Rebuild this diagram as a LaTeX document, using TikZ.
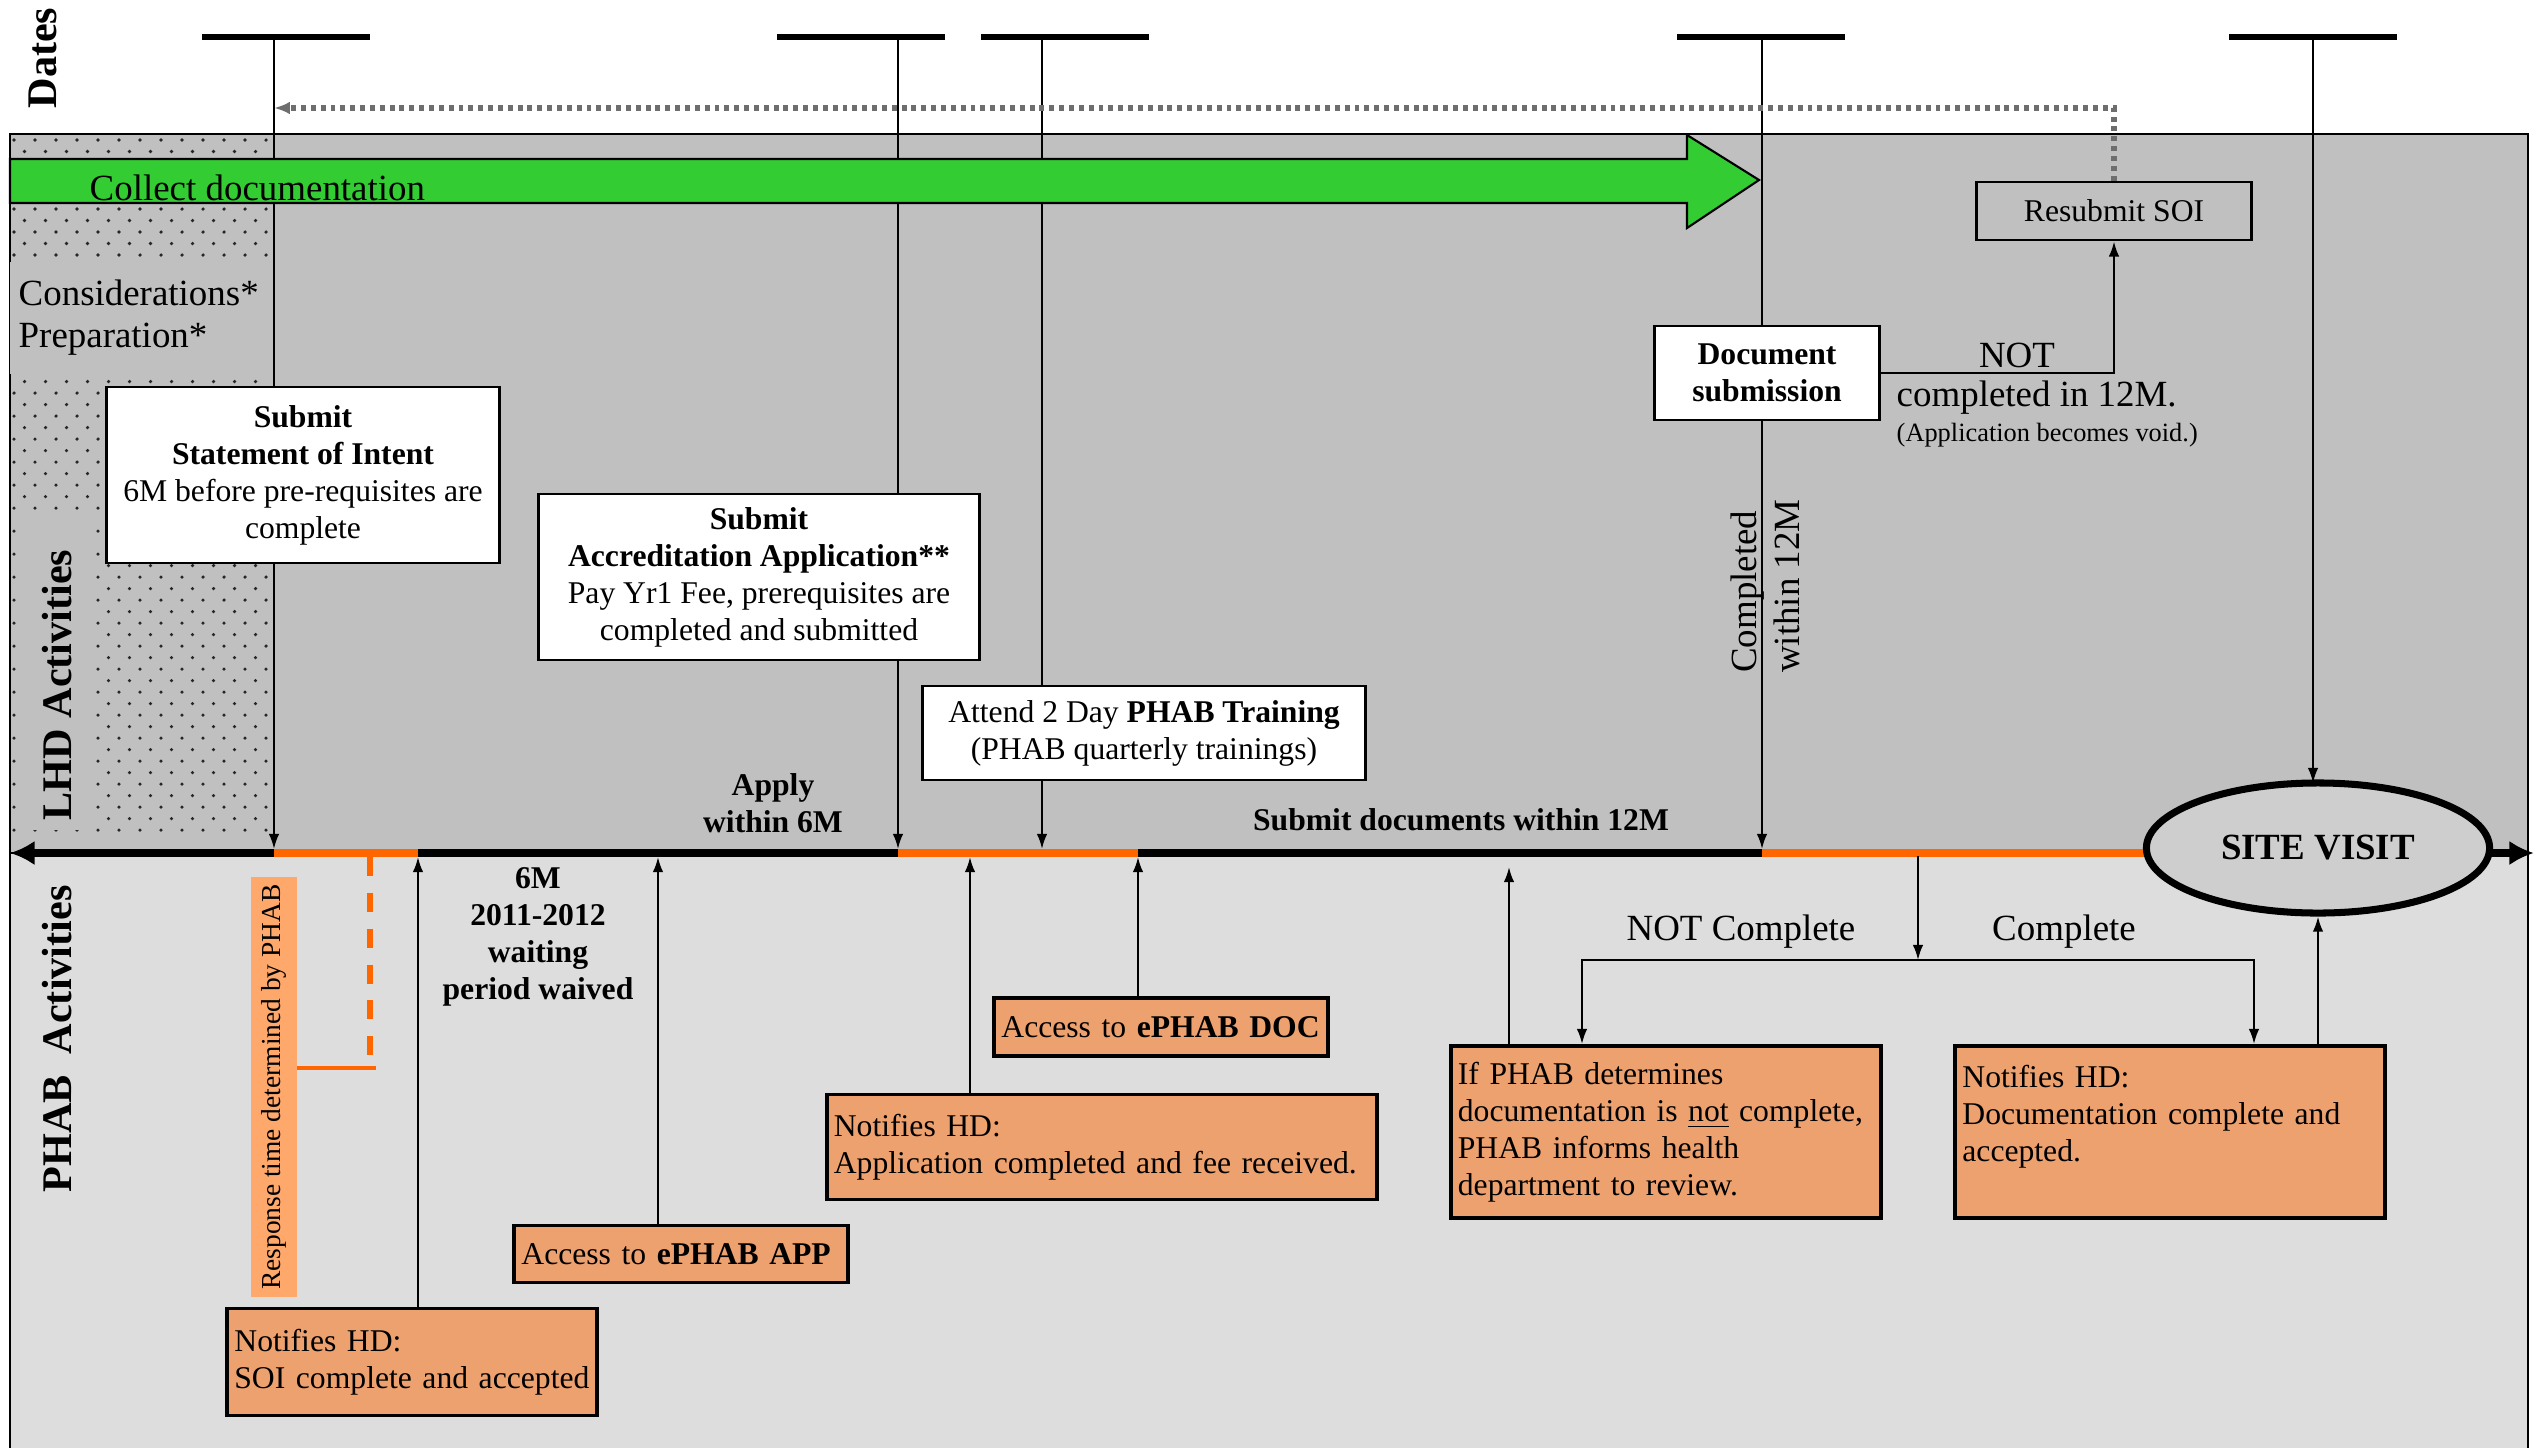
\documentclass[tikz,border=0pt]{standalone}
\usepackage{fontspec}
\setmainfont{Liberation Serif}
\usetikzlibrary{arrows.meta,shapes.geometric}

\definecolor{lhdgray}{RGB}{192,192,192}
\definecolor{phabgray}{RGB}{221,221,221}
\definecolor{sitegray}{RGB}{206,206,206}
\definecolor{docgreen}{RGB}{51,204,51}
\definecolor{axisorange}{RGB}{255,102,0}
\definecolor{boxorange}{RGB}{237,161,111}
\definecolor{resporange}{RGB}{255,168,108}
\definecolor{dotgray}{RGB}{110,110,110}

\newcommand{\boxfont}{\fontsize{9}{10.5}\selectfont}
\newcommand{\notefont}{\fontsize{9}{10.5}\selectfont\hyphenpenalty=10000\relax}
\newcommand{\bigfont}{\fontsize{10.5}{12}\selectfont}
\newcommand{\smallfont}{\fontsize{7.5}{9}\selectfont}
\newcommand{\respfont}{\fontsize{7.8}{9}\selectfont}
\newcommand{\sidefont}{\fontsize{12}{14}\selectfont\bfseries}

\begin{document}
\begin{tikzpicture}[x=0.01cm, y=-0.01cm,
    lhdbox/.style={draw, fill=white, line width=0.8pt, align=center, font=\boxfont, inner sep=0pt},
    phabbox/.style={draw, fill=boxorange, line width=1.1pt, align=left, font=\notefont, inner xsep=0.07cm, inner ysep=0pt},
    datebar/.style={fill=black, minimum width=1.67cm, minimum height=1.5pt, inner sep=0pt},
    arr/.style={line width=0.6pt, -{Latex[length=4.3pt,width=3pt]}},
    axisline/.style={line width=2pt, {Latex[length=7pt,width=7pt]}-{Latex[length=7pt,width=7pt]}},
    orangeline/.style={axisorange, line width=2pt},
    feedback/.style={dotgray, line width=1.5pt, dash pattern=on 1.4pt off 1.4pt, -{Latex[length=4.5pt,width=3.6pt]}}]
    \useasboundingbox (0,0) rectangle (2542,1448);

    % Swim lanes: LHD on top, PHAB below the time axis
    \fill[phabgray] (10,853) rectangle (2528,1448);
    \draw[line width=0.6pt] (10,1448) -- (10,853) (2528,853) -- (2528,1448);
    \filldraw[fill=lhdgray, line width=0.8pt] (10,134) rectangle (2528,853);

    % Dotted strip before the SOI
    \begin{scope}
        \clip (10,134) rectangle (274,853);
        \foreach \row in {0,...,60}
            \foreach \col in {0,...,13}
                \fill[black!85] ({14+21*\col+10.5*mod(\row,2)},{140+11.5*\row}) circle (0.5pt);
    \end{scope}
    \fill[lhdgray] (10,262) rectangle (274,374);
    \fill[lhdgray] (20,515) rectangle (92,830);

    % Date bars and the lines that drop to the axis
    \foreach \nm/\bx/\vx in {soi/286/274, app/861/898, trn/1065/1042, doc/1761/1762, site/2313/2313}{
        \node[datebar] (bar-\nm) at (\bx,37) {};
        \coordinate (top-\nm) at (\vx,37);
    }
    \coordinate (axtop) at (0,849);
    \coordinate (site-top) at (2313,783);
    \foreach \nm in {soi,app,trn,doc}
        \draw[arr] (top-\nm) -- (top-\nm |- axtop);
    \draw[arr] (top-site) -- (site-top);

    % Time axis
    \coordinate (ax-left) at (10,853);
    \coordinate (ax-right) at (2534,853);
    \draw[axisline] (ax-left) -- (ax-right);
    \draw[orangeline] (274,853) -- (418,853) (898,853) -- (1138,853) (1762,853) -- (2150,853);

    % Collect documentation arrow
    \filldraw[fill=docgreen, line width=0.6pt] (10,159) -- (1687,159) -- (1687,135) -- (1759,180)
        -- (1687,228) -- (1687,203) -- (10,203) -- cycle;
    \node[anchor=west, font=\bigfont, inner sep=0pt] (collect) at (89,188) {Collect documentation};

    % Lane titles
    \node[rotate=90, font=\sidefont] (dates) at (43,58) {Dates};
    \node[rotate=90, font=\sidefont] (lhdlbl) at (57,685) {LHD Activities};
    \node[rotate=90, font=\sidefont] (phablbl) at (57,1039) {PHAB\ \ Activities};
    \node[anchor=west, align=left, font=\bigfont, inner sep=0pt] (prep) at (18,318) {Considerations*\\Preparation*};

    % LHD activities
    \node[lhdbox, minimum width=3.93cm, minimum height=1.76cm] (soiBox) at (303,475)
        {\textbf{Submit}\\\textbf{Statement of Intent}\\6M before pre-requisites are\\complete};
    \node[lhdbox, minimum width=4.41cm, minimum height=1.66cm] (accBox) at (759,577)
        {\textbf{Submit}\\\textbf{Accreditation Application**}\\Pay Yr1 Fee, prerequisites are\\completed and submitted};
    \node[lhdbox, minimum width=4.42cm, minimum height=0.94cm] (trnBox) at (1144,733)
        {Attend 2 Day \textbf{PHAB Training}\\(PHAB quarterly trainings)};
    \node[lhdbox, minimum width=2.25cm, minimum height=0.94cm] (docsub) at (1767,373)
        {\textbf{Document}\\\textbf{submission}};
    \node[draw, line width=0.8pt, font=\boxfont, minimum width=2.75cm, minimum height=0.58cm, inner sep=0pt] (resub) at (2114,211)
        {Resubmit SOI};
    \node[font=\bigfont, inner sep=0pt] (notlbl) at (2017,355) {NOT};
    \node[anchor=west, font=\bigfont, inner sep=0pt] (notdone) at (1896,398) {completed in 12M.};
    \node[anchor=west, font=\smallfont, inner sep=0pt] (void) at (1896,435) {(Application becomes void.)};
    \node[rotate=90, align=left, font=\fontsize{10.5}{12.3}\selectfont, inner sep=0pt] (within) at (1765,586)
        {Completed\\within 12M};
    \draw[arr] (docsub.east) -| (resub.south);
    \draw[feedback] (resub.north) -- (resub.north |- 0,108) -- (top-soi |- 0,108);

    % Axis labels
    \node[align=center, font=\boxfont\bfseries, inner sep=0pt] (apply) at (773,803) {Apply\\within 6M};
    \node[font=\boxfont\bfseries, inner sep=0pt] (submit12) at (1461,820) {Submit documents within 12M};
    \node[align=center, font=\boxfont\bfseries, inner sep=0pt] (waived) at (538,937) {6M\\2011-2012\\waiting\\period waived};

    % Site visit
    \node[ellipse, draw, fill=sitegray, line width=2pt, minimum width=3.43cm, minimum height=1.3cm, inner sep=0pt,
        font=\bigfont\bfseries] (site) at (2318,848) {SITE VISIT};

    % PHAB activities
    \node[phabbox, text width=3.55cm, minimum height=1.07cm] (soiNote) at (412,1362)
        {Notifies HD:\\SOI complete and accepted};
    \node[phabbox, text width=3.19cm, minimum height=0.57cm] (appAccess) at (681,1254)
        {Access to \textbf{ePHAB APP}};
    \node[phabbox, text width=5.36cm, minimum height=1.05cm] (appNote) at (1102,1147)
        {Notifies HD:\\Application completed and fee received.};
    \node[phabbox, text width=3.19cm, minimum height=0.58cm] (docAccess) at (1161,1027)
        {Access to \textbf{ePHAB DOC}};
    \node[phabbox, text width=4.16cm, minimum height=1.72cm] (notNote) at (1666,1132)
        {If PHAB determines\\documentation is \underline{not} complete,\\PHAB informs health\\department to review.};
    \node[phabbox, text width=4.15cm, minimum height=1.72cm] (okNote) at (2170,1132)
        {Notifies HD:\\Documentation complete and\\accepted.\\\mbox{}};
    \node[fill=resporange, rotate=90, minimum width=4.2cm, minimum height=0.46cm, inner sep=0pt, font=\respfont] (resp) at (274,1087)
        {Response time determined by PHAB};

    % Response time marker
    \coordinate (respR) at (297,1068);
    \coordinate (respC) at (376,1068);
    \coordinate (respT) at (370,857);
    \draw[axisorange, line width=1.4pt] (respR) -- (respC);
    \draw[axisorange, line width=1.5pt, dash pattern=on 5.4pt off 4.8pt] (respT) -- (respT |- 0,1062);

    % Arrows up to the axis
    \foreach \nd/\ax in {soiNote/418, appAccess/658, appNote/970, docAccess/1138}{
        \coordinate (ax-\nd) at (\ax,857);
        \draw[arr] (\nd.north -| ax-\nd) -- (ax-\nd);
    }
    \coordinate (ax-notNote) at (1509,867);
    \draw[arr] (notNote.north -| ax-notNote) -- (ax-notNote);
    \draw[arr] (okNote.north -| site.south) -- (site.south);

    % Review of the documents
    \coordinate (ax-chk) at (1918,856);
    \coordinate (split) at (1918,960);
    \coordinate (notIn) at (1582,960);
    \coordinate (okIn) at (2254,960);
    \draw[arr] (ax-chk) -- (split);
    \draw[arr] (split) -- (notIn) -- (notIn |- notNote.north);
    \draw[arr] (split) -- (okIn) -- (okIn |- okNote.north);
    \node[font=\bigfont, inner sep=0pt] (notlbl2) at (1741,932) {NOT Complete};
    \node[font=\bigfont, inner sep=0pt] (oklbl) at (2064,932) {Complete};
\end{tikzpicture}
\end{document}
